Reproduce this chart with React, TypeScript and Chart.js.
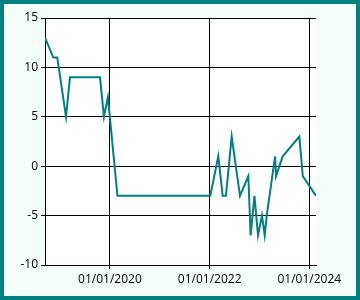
import React, { useEffect, useRef } from "react";
import { Chart, registerables } from "chart.js";

Chart.register(...registerables);

const dates: string[] = [
  "2018-09-12", "2018-11-12", "2018-12-11", "2019-02-13", "2019-03-14",
  "2019-10-20", "2019-11-18", "2019-12-17", "2020-02-25", "2022-01-05",
  "2022-03-05", "2022-04-06", "2022-04-30", "2022-06-11", "2022-08-11",
  "2022-10-11", "2022-10-28", "2022-11-25", "2022-12-21", "2023-01-19",
  "2023-02-08", "2023-02-23", "2023-04-25", "2023-05-02", "2023-06-20",
  "2023-10-20", "2023-11-14", "2024-02-19",
];
const values: number[] = [
  13, 11, 11, 5, 9,
  9, 5, 7, -3, -3,
  1, -3, -3, 3, -3,
  -1, -7, -3, -7, -5,
  -7, -5, 1, -1, 1,
  3, -1, -3,
];
const xTickDates: string[] = ["2020-01-01", "2022-01-01", "2024-01-01"];
const yMin = -10;
const yMax = 15;
const yStep = 5;

const toTs = (d: string) => {
  const [y, m, day] = d.split("-").map(Number);
  return Date.UTC(y, m - 1, day);
};
const fmt = (ts: number) => {
  const d = new Date(ts);
  const dd = String(d.getUTCDate()).padStart(2, "0");
  const mm = String(d.getUTCMonth() + 1).padStart(2, "0");
  return `${dd}/${mm}/${d.getUTCFullYear()}`;
};

const TEAL = "#008080";
const MINT = "#F5FFFA";
const FONT = { family: "'Open Sans', sans-serif", size: 12 };

const bgPlugin = {
  id: "plotBg",
  beforeDraw(chart: any) {
    const { ctx, chartArea } = chart;
    if (!chartArea) return;
    ctx.save();
    ctx.fillStyle = "#ffffff";
    ctx.fillRect(chartArea.left, chartArea.top, chartArea.right - chartArea.left, chartArea.bottom - chartArea.top);
    ctx.restore();
  },
};

export default function App() {
  const ref = useRef<HTMLCanvasElement | null>(null);

  useEffect(() => {
    document.body.style.margin = "0";
    if (!ref.current) return;
    const points = dates.map((d, i) => ({ x: toTs(d), y: values[i] }));
    const xTicks = xTickDates.map(toTs);
    const chart = new Chart(ref.current, {
      type: "line",
      data: {
        datasets: [
          {
            data: points,
            borderColor: TEAL,
            borderWidth: 2,
            pointRadius: 0,
            tension: 0,
            fill: false,
          },
        ],
      },
      options: {
        animation: false,
        responsive: false,
        maintainAspectRatio: false,
        layout: { padding: { top: 14, right: 40, bottom: 0, left: 0 } },
        plugins: { legend: { display: false }, tooltip: { enabled: false } },
        scales: {
          x: {
            type: "linear",
            min: points[0].x,
            max: points[points.length - 1].x,
            afterBuildTicks: (s: any) => {
              s.ticks = xTicks.map((v) => ({ value: v }));
            },
            afterFit: (s: any) => {
              s.height = 31;
            },
            ticks: {
              callback: (v: any) => fmt(Number(v)),
              font: FONT,
              color: "#000",
              padding: 3,
              maxRotation: 0,
              autoSkip: false,
            },
            grid: { color: "#000", lineWidth: 1, tickLength: 4, drawTicks: true },
            border: { color: "#000", width: 1 },
          },
          y: {
            type: "linear",
            min: yMin,
            max: yMax,
            afterFit: (s: any) => {
              s.width = 41;
            },
            ticks: { stepSize: yStep, font: FONT, color: "#000", padding: 3 },
            grid: { color: "#000", lineWidth: 1, tickLength: 4, drawTicks: true },
            border: { color: "#000", width: 1 },
          },
        },
      },
      plugins: [bgPlugin],
    } as any);
    return () => chart.destroy();
  }, []);

  return (
    <div
      style={{
        width: 360,
        height: 300,
        boxSizing: "border-box",
        border: `4px solid ${TEAL}`,
        background: MINT,
      }}
    >
      <canvas ref={ref} width={352} height={292} style={{ display: "block", width: 352, height: 292 }} />
    </div>
  );
}
